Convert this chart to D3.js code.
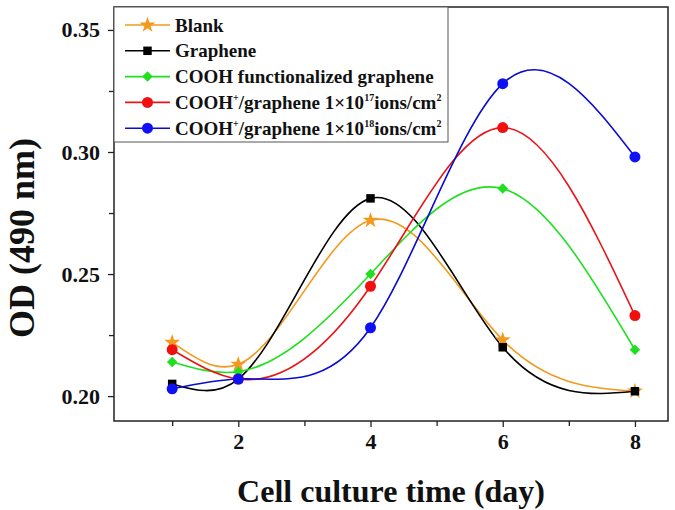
<!DOCTYPE html>
<html>
<head>
<meta charset="utf-8">
<script src="https://cdn.jsdelivr.net/npm/d3@7"></script>
<style>
  body { margin: 0; background: #fff; }
  text { font-family: "Liberation Serif", "Times New Roman", serif; font-weight: bold; }
</style>
</head>
<body>
<div id="chart"></div>
<script>
const width = 675, height = 510;
const margin = {top: 7, right: 7, bottom: 89, left: 114};

// Data
const days = [1, 2, 4, 6, 8];
const blank = [0.222, 0.213, 0.272, 0.223, 0.202];
const graphene = [0.205, 0.207, 0.281, 0.220, 0.202];
const cooh = [0.214, 0.210, 0.250, 0.285, 0.219];
const cooh17 = [0.219, 0.207, 0.245, 0.310, 0.233];
const cooh18 = [0.203, 0.207, 0.228, 0.328, 0.298];
const xTicks = [2, 4, 6, 8];
const xMinor = [1, 3, 5, 7];
const yTicks = [0.20, 0.25, 0.30, 0.35];
const yMinor = [0.225, 0.275, 0.325];

const series = [
    {name: "Blank", values: blank, color: "#f39a1e", symbol: "star"},
    {name: "Graphene", values: graphene, color: "#000000", symbol: "square"},
    {name: "COOH functionalized graphene", values: cooh, color: "#1fe01f", symbol: "diamond"},
    {name: "COOH17", values: cooh17, color: "#e8141a", mark: "#f01010", symbol: "circle"},
    {name: "COOH18", values: cooh18, color: "#0a0ad0", mark: "#1010f5", symbol: "circle"}
];

// natural cubic spline with y as a function of x (like Origin's "Spline" connect)
function SplineX(context) { this._context = context; }
SplineX.prototype = {
    areaStart() { this._line = 0; },
    areaEnd() { this._line = NaN; },
    lineStart() { this._x = []; this._y = []; },
    point(x, y) { this._x.push(+x); this._y.push(+y); },
    lineEnd() {
        const X = this._x, Y = this._y, n = X.length, c = this._context;
        if (!n) return;
        c.moveTo(X[0], Y[0]);
        if (n < 3) { if (n === 2) c.lineTo(X[1], Y[1]); return; }
        const h = [], M = new Array(n).fill(0);
        for (let i = 0; i < n - 1; i++) h.push(X[i + 1] - X[i]);
        // tridiagonal solve for second derivatives
        const a = [], b = [], cc = [], r = [];
        for (let i = 1; i < n - 1; i++) {
            a.push(h[i - 1]); b.push(2 * (h[i - 1] + h[i])); cc.push(h[i]);
            r.push(6 * ((Y[i + 1] - Y[i]) / h[i] - (Y[i] - Y[i - 1]) / h[i - 1]));
        }
        const m = r.length;
        for (let i = 1; i < m; i++) {
            const w = a[i] / b[i - 1];
            b[i] -= w * cc[i - 1];
            r[i] -= w * r[i - 1];
        }
        const s = new Array(m);
        s[m - 1] = r[m - 1] / b[m - 1];
        for (let i = m - 2; i >= 0; i--) s[i] = (r[i] - cc[i] * s[i + 1]) / b[i];
        for (let i = 0; i < m; i++) M[i + 1] = s[i];
        for (let i = 0; i < n - 1; i++) {
            const hi = h[i];
            const d0 = (Y[i + 1] - Y[i]) / hi - hi * (2 * M[i] + M[i + 1]) / 6;
            const d1 = (Y[i + 1] - Y[i]) / hi + hi * (M[i] + 2 * M[i + 1]) / 6;
            c.bezierCurveTo(X[i] + hi / 3, Y[i] + d0 * hi / 3,
                            X[i + 1] - hi / 3, Y[i + 1] - d1 * hi / 3,
                            X[i + 1], Y[i + 1]);
        }
    }
};
const curveSplineX = context => new SplineX(context);

const svg = d3.select("#chart")
    .append("svg")
    .attr("width", width)
    .attr("height", height);

const x = d3.scaleLinear().domain([0.12, 8.5]).range([margin.left, width - margin.right]);
const y = d3.scaleLinear().domain([0.1898, 0.3594]).range([height - margin.bottom, margin.top]);

// Axes
svg.append("g")
    .attr("transform", `translate(0,${height - margin.bottom})`)
    .call(d3.axisBottom(x).tickValues(xTicks).tickSize(6).tickPadding(6).tickFormat(d3.format("d")));
svg.append("g")
    .attr("transform", `translate(0,${height - margin.bottom})`)
    .call(d3.axisBottom(x).tickValues(xMinor).tickSize(5).tickFormat(""));
svg.append("g")
    .attr("transform", `translate(${margin.left},0)`)
    .call(d3.axisLeft(y).tickValues(yTicks).tickSize(6).tickPadding(8).tickFormat(d3.format(".2f")));
svg.append("g")
    .attr("transform", `translate(${margin.left},0)`)
    .call(d3.axisLeft(y).tickValues(yMinor).tickSize(5).tickFormat(""));

svg.selectAll(".domain").remove();
svg.selectAll(".tick line").attr("stroke", "#222").attr("stroke-width", 1.3);
svg.selectAll(".tick text").attr("font-size", "22px").attr("fill", "#111");

// Frame
svg.append("rect")
    .attr("x", margin.left)
    .attr("y", margin.top)
    .attr("width", width - margin.left - margin.right)
    .attr("height", height - margin.top - margin.bottom)
    .attr("fill", "none")
    .attr("stroke", "#222")
    .attr("stroke-width", 1.5);

// Axis titles
svg.append("text")
    .attr("x", (margin.left + width - margin.right) / 2)
    .attr("y", 502)
    .attr("text-anchor", "middle")
    .attr("font-size", "32px")
    .attr("fill", "#111")
    .text("Cell culture time (day)");

svg.append("text")
    .attr("transform", "translate(34,238) rotate(-90)")
    .attr("text-anchor", "middle")
    .attr("font-size", "36px")
    .attr("fill", "#111")
    .text("OD (490 nm)");

// Markers
function symbolOf(s) {
    if (s === "star") return d3.symbol().type(d3.symbolStar).size(80);
    if (s === "square") return d3.symbol().type(d3.symbolSquare).size(72);
    if (s === "diamond") return d3.symbol().type(d3.symbolSquare).size(55);
    return d3.symbol().type(d3.symbolCircle).size(95);
}

const line = d3.line()
    .x((d, i) => x(days[i]))
    .y(d => y(d))
    .curve(curveSplineX);

series.forEach(s => {
    svg.append("path")
        .attr("d", line(s.values))
        .attr("fill", "none")
        .attr("stroke", s.color)
        .attr("stroke-width", 1.6);
});

series.forEach(s => {
    svg.selectAll(null)
        .data(s.values)
        .enter()
        .append("path")
        .attr("d", symbolOf(s.symbol)())
        .attr("transform", (d, i) => `translate(${x(days[i])},${y(d)})` + (s.symbol === "diamond" ? " rotate(45)" : ""))
        .attr("fill", s.mark || s.color);
});

// Legend
const legend = svg.append("g");
legend.append("rect")
    .attr("x", margin.left)
    .attr("y", margin.top)
    .attr("width", 334)
    .attr("height", 135)
    .attr("fill", "#fff")
    .attr("stroke", "#555")
    .attr("stroke-width", 1);

series.forEach((s, i) => {
    const g = legend.append("g").attr("transform", `translate(0, ${25 + i * 25.8})`);
    g.append("line")
        .attr("x1", 125).attr("x2", 170)
        .attr("stroke", s.color).attr("stroke-width", 1.6);
    g.append("path")
        .attr("d", symbolOf(s.symbol)())
        .attr("transform", "translate(147.5,0)" + (s.symbol === "diamond" ? " rotate(45)" : ""))
        .attr("fill", s.mark || s.color);
    const t = g.append("text")
        .attr("x", 175).attr("y", 6.5)
        .attr("font-size", "19px")
        .attr("fill", "#111");
    if (s.name === "COOH17" || s.name === "COOH18") {
        const exp = s.name === "COOH17" ? "17" : "18";
        t.append("tspan").text("COOH");
        t.append("tspan").attr("dy", -8).attr("font-size", "10px").text("+");
        t.append("tspan").attr("dy", 8).text("/graphene 1×10");
        t.append("tspan").attr("dy", -8).attr("font-size", "10px").text(exp);
        t.append("tspan").attr("dy", 8).text("ions/cm");
        t.append("tspan").attr("dy", -8).attr("font-size", "10px").text("2");
    } else {
        t.text(s.name);
    }
});
</script>
</body>
</html>
